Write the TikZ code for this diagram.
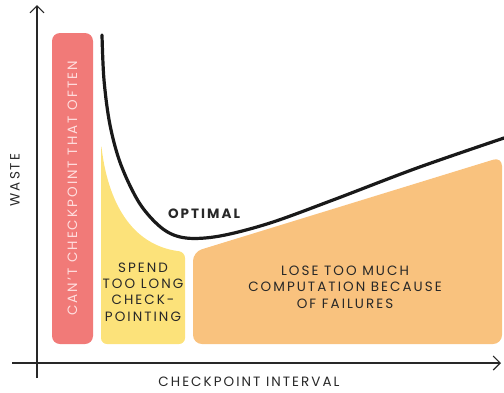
\documentclass[tikz,border=0pt]{standalone}
\usepackage{fontspec}
\setmainfont{Poppins}[LetterSpace=15]
\usetikzlibrary{arrows.meta, positioning}
\definecolor{wastered}{RGB}{241, 122, 120}
\definecolor{spendyellow}{RGB}{252, 226, 122}
\definecolor{loseorange}{RGB}{249, 194, 126}
\definecolor{inkgray}{RGB}{40, 40, 40}
\definecolor{palepink}{RGB}{255, 222, 222}

\begin{document}
\begin{tikzpicture}[x=1pt, y=-1pt, font=\fontsize{13.5}{16.3}\selectfont]
  \useasboundingbox (0,0) rectangle (504,392);

  % Regions
  \node[fill=wastered, rounded corners=8pt, rotate=90, minimum width=311pt, minimum height=41pt, inner sep=0pt, text=palepink] (often) at (72.5,188.5) {CAN'T CHECKPOINT THAT OFTEN};
  \fill[spendyellow, rounded corners=6pt] (101,344) -- (101,143) .. controls (108,200) and (130,245) .. (185,252) -- (185,344) -- cycle;
  \fill[loseorange, rounded corners=9pt] (193,344) -- (193,252) -- (502,157) -- (502,344) -- cycle;

  % Axes
  \coordinate (ytop) at (37,5);
  \coordinate (ybot) at (37,378);
  \coordinate (xleft) at (12,363);
  \coordinate (xright) at (501,363);
  \draw[inkgray, line width=1.1pt, -{Straight Barb[length=7pt, width=14pt]}] (ybot) -- (ytop);
  \draw[inkgray, line width=1.1pt, -{Straight Barb[length=7pt, width=14pt]}] (xleft) -- (xright);

  % Curve
  \draw[black!90, line width=3.2pt, line cap=round] plot[smooth, tension=0.55] coordinates {(102,35) (104,80) (110,125) (121,165) (140,204) (163,229) (186,238) (220,236) (270,223) (333,200) (417,168) (504,138)};

  % Labels
  \node[text=inkgray, rotate=90] (waste) at (15,180) {WASTE};
  \node[text=inkgray] (interval) at (249,382) {CHECKPOINT INTERVAL};
  \node[text=inkgray, font=\fontsize{13.5}{16.3}\selectfont\bfseries] (optimal) at (204,214) {OPTIMAL};
  \node[text=inkgray, align=center] (spend) at (143,292) {SPEND\\TOO LONG\\CHECK-\\POINTING};
  \node[text=inkgray, align=center] (lose) at (345,287) {LOSE TOO MUCH\\COMPUTATION BECAUSE\\OF FAILURES};
\end{tikzpicture}
\end{document}
